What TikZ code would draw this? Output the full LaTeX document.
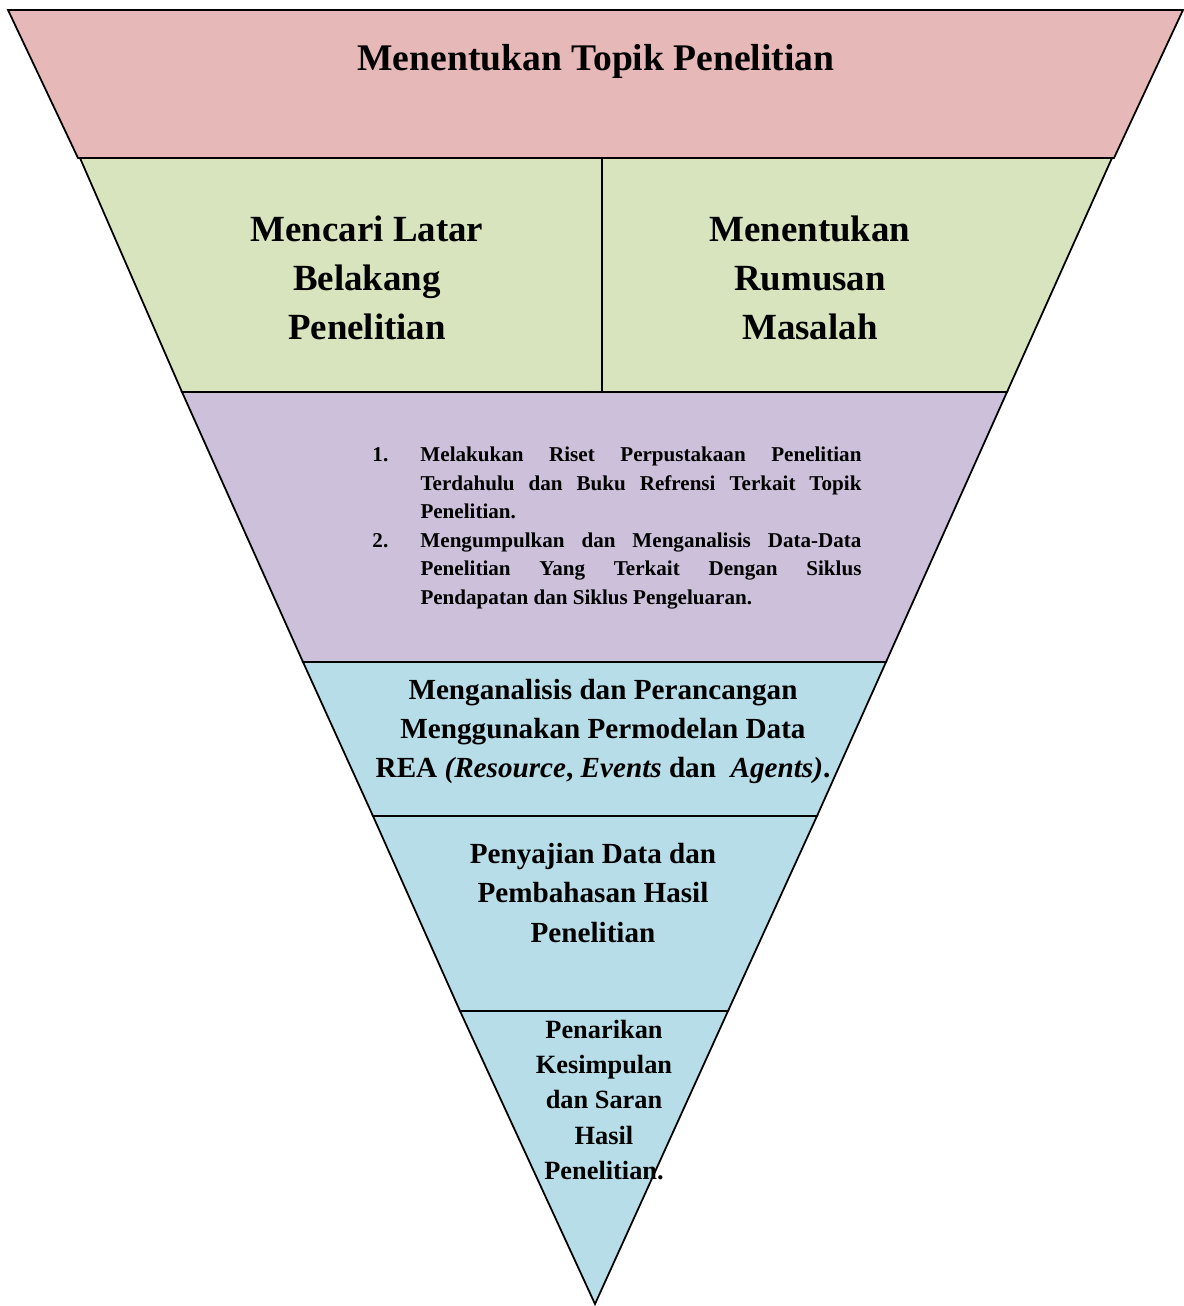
\documentclass[tikz,border=0pt]{standalone}
\usepackage{fontspec}
\setmainfont{Liberation Serif}
\definecolor{pinkband}{HTML}{E6B8B7}
\definecolor{greenband}{HTML}{D7E4BD}
\definecolor{purpleband}{HTML}{CCC0DA}
\definecolor{blueband}{HTML}{B7DEE8}

\tikzset{
  band/.style={draw=black, line width=1pt, line join=miter},
  bigtxt/.style={font=\fontsize{21}{27.9}\selectfont\bfseries, align=center, inner sep=0pt},
  midtxt/.style={font=\fontsize{16.6}{22.2}\selectfont\bfseries, align=center, inner sep=0pt},
  smalltxt/.style={font=\fontsize{15}{20}\selectfont\bfseries, align=center, inner sep=0pt},
}

\begin{document}
\begin{tikzpicture}[x=0.2mm, y=-0.2mm]
\useasboundingbox (0,0) rectangle (1184,1306);

% bands of the funnel
\draw [band, fill=pinkband] (8,10) -- (1183,10) -- (1114,158) -- (78,158) -- cycle;
\draw [band, fill=greenband] (80,158) -- (1112,158) -- (1007,392) -- (182,392) -- cycle;
\draw [band] (602,158) -- (602,392);
\draw [band, fill=purpleband] (182,392) -- (1007,392) -- (886,662) -- (303,662) -- cycle;
\draw [band, fill=blueband] (303,662) -- (886,662) -- (817,816) -- (373,816) -- cycle;
\draw [band, fill=blueband] (373,816) -- (817,816) -- (728,1011) -- (460,1011) -- cycle;
\draw [band, fill=blueband] (460,1011) -- (728,1011) -- (595,1304) -- cycle;

% texts
\node (topik) at (596,61) [bigtxt, font=\fontsize{21.4}{27.9}\selectfont\bfseries] {Menentukan Topik Penelitian};
\node (latar) at (367,278) [bigtxt] {Mencari Latar\\Belakang\\Penelitian};
\node (rumusan) at (810,278) [bigtxt] {Menentukan\\Rumusan\\Masalah};
\node (riset) at (617,528) [inner sep=0pt] {%
  \begin{minipage}{97.8mm}
  \fontsize{12}{16.2}\selectfont\bfseries
  \noindent\hangindent=9.6mm\hangafter=1\makebox[9.6mm][l]{1.}Melakukan Riset Perpustakaan Penelitian\linebreak
  Terdahulu dan Buku Refrensi Terkait Topik\linebreak Penelitian.\par
  \noindent\hangindent=9.6mm\hangafter=1\makebox[9.6mm][l]{2.}Mengumpulkan dan Menganalisis Data-Data\linebreak
  Penelitian Yang Terkait Dengan Siklus\linebreak Pendapatan dan Siklus Pengeluaran.\par
  \end{minipage}};
\node (rea) at (603,731) [midtxt] {Menganalisis dan Perancangan\\Menggunakan Permodelan Data\\REA \textit{(Resource}, \textit{Events} dan \ \textit{Agents)}.};
\node (sajian) at (593,893) [midtxt] {Penyajian Data dan\\Pembahasan Hasil\\Penelitian};
\node (simpulan) at (604,1100) [smalltxt] {Penarikan\\Kesimpulan\\dan Saran\\Hasil\\Penelitian.};

\end{tikzpicture}
\end{document}
